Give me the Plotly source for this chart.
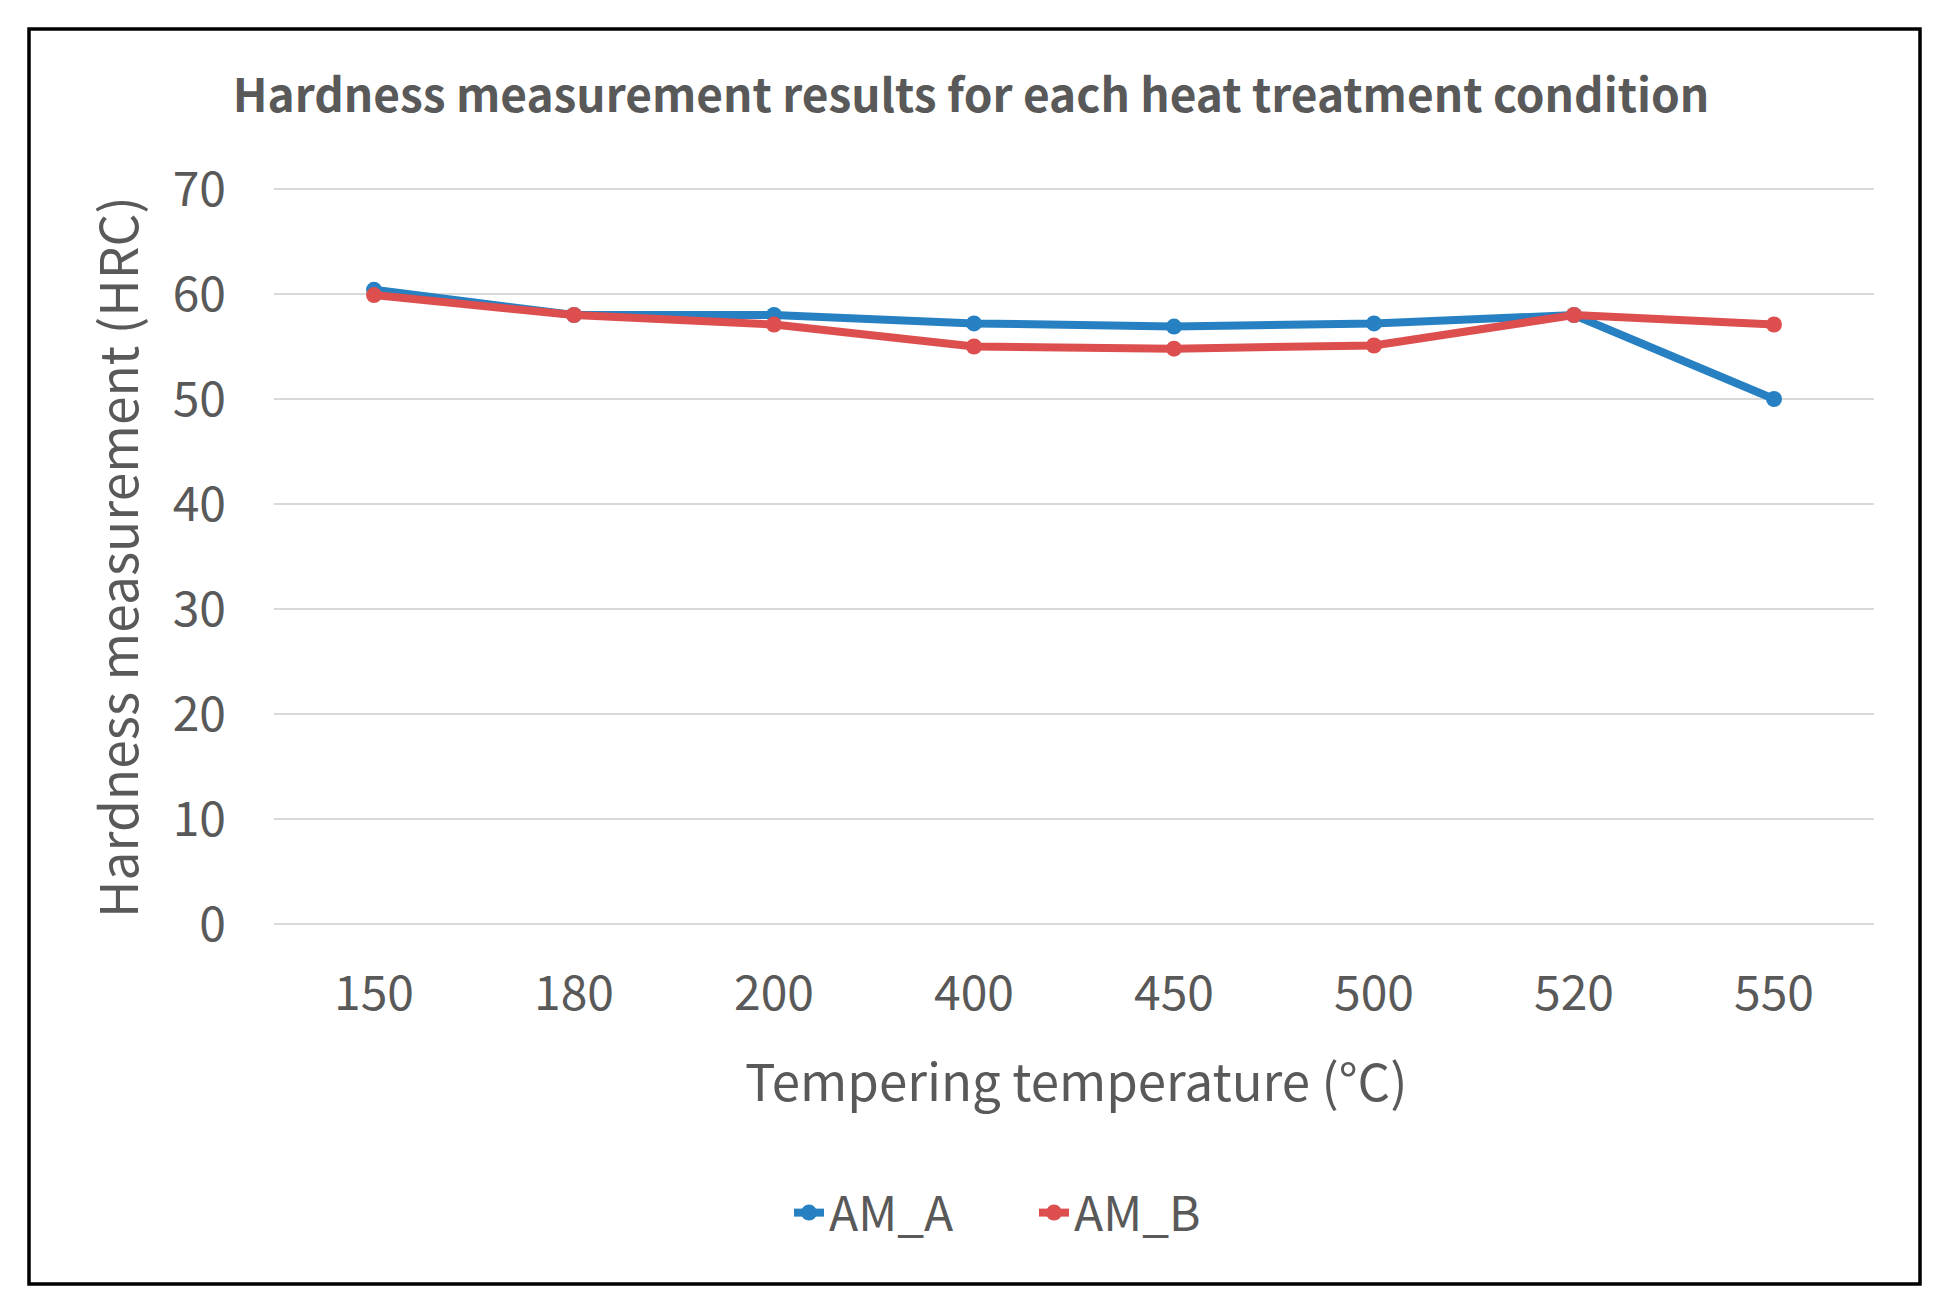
import plotly.graph_objects as go

categories = ["150", "180", "200", "400", "450", "500", "520", "550"]
am_a = [60.4, 58.0, 58.0, 57.2, 56.9, 57.2, 58.0, 50.0]
am_b = [59.9, 58.0, 57.1, 55.0, 54.8, 55.1, 58.0, 57.1]
y_ticks = [0, 10, 20, 30, 40, 50, 60, 70]

FONT = "Noto Sans CJK KR"
GREY = "#595959"
BLUE = "#2680C2"
RED = "#DD4F4F"

W, H = 1950, 1316
L, R, T, B = 266, 1866, 181, 916
YMIN, YMAX = -0.1, 70.1

fig = go.Figure()
fig.add_trace(go.Scatter(x=categories, y=am_a, name="AM_A", mode="lines+markers",
                         line=dict(color=BLUE, width=8),
                         marker=dict(color=BLUE, size=16)))
fig.add_trace(go.Scatter(x=categories, y=am_b, name="AM_B", mode="lines+markers",
                         line=dict(color=RED, width=8),
                         marker=dict(color=RED, size=16)))

def px(x):
    return (x - L) / (R - L)

span = B - T
unit = span / 70.0
T2 = T - (YMAX - 70) * unit
B2 = B + (0 - YMIN) * unit

def py2(y):
    return (B2 - y) / (B2 - T2)

fig.update_layout(
    width=W, height=H,
    margin=dict(l=L, r=W - R, t=T2, b=H - B2),
    paper_bgcolor="white", plot_bgcolor="white",
    font=dict(family=FONT, color=GREY, size=48),
    title=dict(text="<b>Hardness measurement results for each heat treatment condition</b>",
               x=963 / W, xref="container", xanchor="center",
               y=1 - 88 / H, yref="container", yanchor="middle",
               font=dict(family=FONT, size=46, color=GREY)),
    xaxis=dict(type="category", range=[-0.5, 7.5], showgrid=False, zeroline=False,
               showline=False, ticks="", ticklabelstandoff=36,
               tickfont=dict(size=48, color=GREY)),
    yaxis=dict(range=[YMIN, YMAX], tickvals=y_ticks, showgrid=True, gridcolor="#D9D9D9",
               gridwidth=2, zeroline=False, showline=False, ticks="",
               ticklabelstandoff=47, tickfont=dict(size=48, color=GREY)),
    legend=dict(orientation="h", x=(1026 - L) / (R - L), xanchor="center",
                y=py2(1205), yanchor="middle",
                font=dict(size=48, color=GREY), entrywidth=200, entrywidthmode="pixels"),
    showlegend=True,
)

fig.add_annotation(text="Tempering temperature (°C)", xref="paper", yref="paper",
                   x=px(1068), y=py2(1071), xanchor="center", yanchor="middle",
                   showarrow=False, font=dict(size=51, color=GREY, family=FONT))
fig.add_annotation(text="Hardness measurement (HRC)", xref="paper", yref="paper",
                   x=px(108), y=py2(549), xanchor="center", yanchor="middle",
                   textangle=-90, showarrow=False,
                   font=dict(size=51.5, color=GREY, family=FONT))

fig.add_shape(type="rect", xref="paper", yref="paper",
              x0=px(21), x1=px(1912), y0=py2(21), y1=py2(1276),
              line=dict(color="black", width=3.5), fillcolor="rgba(0,0,0,0)", layer="above")

fig.write_html("out.html")
